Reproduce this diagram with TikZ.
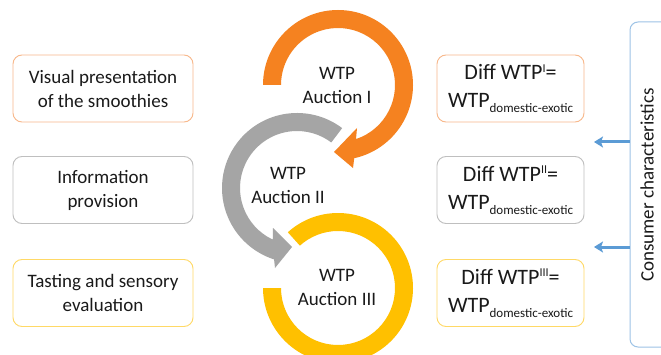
\documentclass[tikz,border=0pt]{standalone}
\usepackage{fontspec}
\setmainfont{Carlito}
\usetikzlibrary{arrows.meta,calc}
\definecolor{orng}{HTML}{F58220}
\definecolor{gry}{HTML}{A5A5A5}
\definecolor{ylw}{HTML}{FFC000}
\definecolor{blu}{HTML}{5B9BD5}
\definecolor{orngl}{HTML}{F8B88B}
\definecolor{gryl}{HTML}{BFBFBF}
\definecolor{ylwl}{HTML}{FFD966}
\definecolor{blul}{HTML}{9DC3E6}
\definecolor{txt}{HTML}{1A1A1A}
\newcommand\mysup[1]{\raisebox{7.5pt}{\fontsize{12}{12}\selectfont #1}}
\newcommand\mysub[1]{\raisebox{-5pt}{\fontsize{13}{12}\selectfont #1}}
\begin{document}
\begin{tikzpicture}[x=1pt,y=1pt,
  box/.style={draw, rounded corners=9pt, line width=0.9pt, minimum width=180pt, minimum height=67pt, align=center, font=\fontsize{19}{24}\selectfont, text=txt, inner sep=0pt},
  rbox/.style={box, minimum width=147pt, font=\fontsize{22}{28}\selectfont},
  lbl/.style={align=center, font=\fontsize{19}{24}\selectfont, text=txt, inner sep=0pt},
  bluarrow/.style={draw=blu, line width=3pt, -{Stealth[length=9pt,width=11pt,inset=2pt]}}]
\useasboundingbox (0,0) rectangle (661,354);
\clip (0,0) rectangle (661,354);
\fill[white] (0,0) rectangle (661,354);
% rings
\begin{scope}[shift={(297,166)}]
  \fill[gry] (53:75) arc[start angle=53, end angle=252.2, radius=75]
    -- (-22,-80) -- (-5,-59) -- (-24,-40)
    -- (244.8:57) arc[start angle=244.8, end angle=53, radius=57] -- cycle;
\end{scope}
\begin{scope}[shift={(338,66)}]
  \fill[ylw] (132:75) arc[start angle=132, end angle=-180, radius=75]
    -- (180:57) arc[start angle=-180, end angle=132, radius=57] -- cycle;
\end{scope}
\begin{scope}[shift={(338,269)}]
  \fill[orng] (180:75) arc[start angle=180, end angle=-77.5, radius=75]
    -- (15,-83) -- (-4,-67) -- (19,-43)
    -- (-71.6:57) arc[start angle=-71.6, end angle=180, radius=57] -- cycle;
\end{scope}
\node[lbl] (w1) at (337,269) {WTP\\Auction I};
\node[lbl] (w2) at (288,169) {WTP\\Auction II};
\node[lbl] (w3) at (337,67) {WTP\\Auction III};
% left boxes
\node[box, draw=orngl] (l1) at (103,265.5) {Visual presentation\\of the smoothies};
\node[box, draw=gryl] (l2) at (103,164) {Information\\provision};
\node[box, draw=ylwl] (l3) at (103,61) {Tasting and sensory\\evaluation};
% right boxes
\node[rbox, draw=orngl] (r1) at (510.5,265.5) {Diff WTP\mysup{I}=\\WTP\mysub{domestic-exotic}};
\node[rbox, draw=gryl] (r2) at (510.5,164) {Diff WTP\mysup{II}=\\WTP\mysub{domestic-exotic}};
\node[rbox, draw=ylwl] (r3) at (510.5,61) {Diff WTP\mysup{III}=\\WTP\mysub{domestic-exotic}};
% consumer characteristics
\node[draw=blul, line width=1pt, rounded corners=8pt, minimum width=70pt, minimum height=325pt, inner sep=0pt] (cons) at (665,169.5) {};
\node[lbl, rotate=90] (ctext) at (647,169) {Consumer characteristics};
\coordinate (a1) at (594,212);
\coordinate (a2) at (594,107);
\draw[bluarrow] (cons.west |- a1) -- (a1);
\draw[bluarrow] (cons.west |- a2) -- (a2);
\end{tikzpicture}
\end{document}
